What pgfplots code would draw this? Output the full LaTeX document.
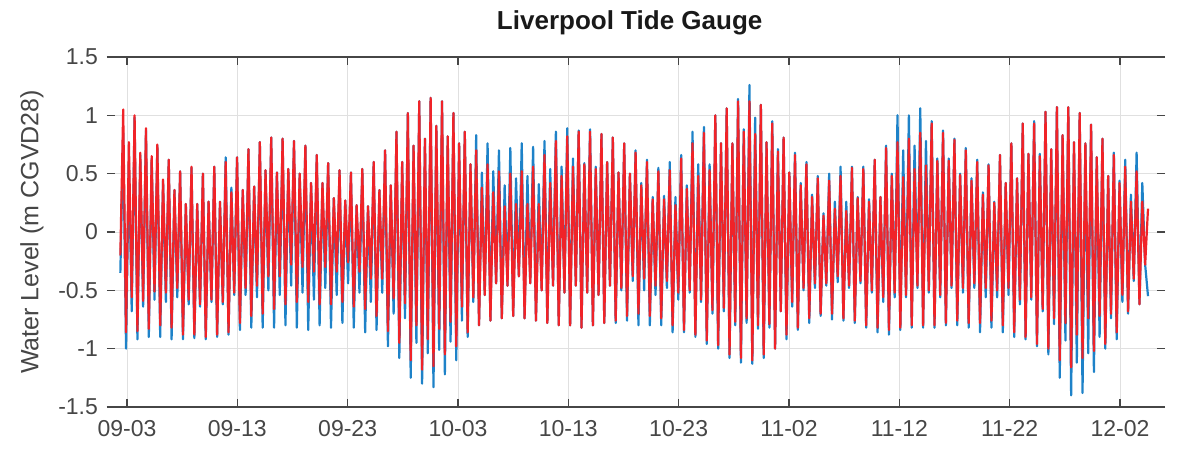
\documentclass[border=0pt]{standalone}
\usepackage{pgfplots}
\pgfplotsset{compat=1.18}
\usepackage{pgfplotstable}
\usepackage{fontspec}
\setmainfont{Liberation Sans}
\definecolor{tred}{RGB}{240,35,40}
\definecolor{tblue}{RGB}{30,130,200}
\definecolor{axgray}{RGB}{70,70,70}

% predicted (red) water level, one value every 0.258 day starting at day -0.6 (09-03 = day 0)
\pgfplotstableread[row sep=\\,header=false]{
-0.20\\
1.05\\ -0.86\\ 0.77\\ -0.56\\
1.00\\ -0.85\\ 0.68\\ -0.59\\
0.89\\ -0.83\\ 0.65\\ -0.51\\
0.75\\ -0.80\\ 0.45\\ -0.52\\
0.62\\ -0.82\\ 0.36\\ -0.48\\
0.52\\ -0.88\\ 0.24\\ -0.58\\
0.56\\ -0.88\\ 0.24\\ -0.62\\
0.50\\ -0.90\\ 0.26\\ -0.58\\
0.56\\ -0.88\\ 0.26\\ -0.60\\
0.60\\ -0.86\\ 0.34\\ -0.52\\
0.64\\ -0.78\\ 0.36\\ -0.48\\
0.71\\ -0.72\\ 0.39\\ -0.46\\
0.77\\ -0.70\\ 0.53\\ -0.38\\
0.81\\ -0.66\\ 0.51\\ -0.38\\
0.80\\ -0.62\\ 0.54\\ -0.28\\
0.78\\ -0.60\\ 0.50\\ -0.30\\
0.74\\ -0.60\\ 0.42\\ -0.34\\
0.66\\ -0.62\\ 0.42\\ -0.30\\
0.59\\ -0.62\\ 0.29\\ -0.34\\
0.53\\ -0.60\\ 0.27\\ -0.26\\
0.51\\ -0.64\\ 0.23\\ -0.34\\
0.54\\ -0.66\\ 0.22\\ -0.40\\
0.60\\ -0.72\\ 0.36\\ -0.40\\
0.70\\ -0.85\\ 0.40\\ -0.57\\
0.86\\ -0.95\\ 0.60\\ -0.61\\
1.02\\ -1.10\\ 0.74\\ -0.80\\
1.12\\ -1.18\\ 0.80\\ -0.92\\
1.15\\ -1.15\\ 0.91\\ -0.83\\
1.12\\ -1.05\\ 0.82\\ -0.77\\
1.02\\ -0.98\\ 0.76\\ -0.64\\
0.86\\ -0.86\\ 0.58\\ -0.56\\
0.70\\ -0.80\\ 0.38\\ -0.54\\
0.58\\ -0.76\\ 0.34\\ -0.44\\
0.52\\ -0.74\\ 0.22\\ -0.46\\
0.50\\ -0.72\\ 0.24\\ -0.38\\
0.52\\ -0.74\\ 0.24\\ -0.44\\
0.56\\ -0.76\\ 0.24\\ -0.50\\
0.66\\ -0.78\\ 0.42\\ -0.46\\
0.78\\ -0.80\\ 0.48\\ -0.52\\
0.82\\ -0.80\\ 0.56\\ -0.46\\
0.86\\ -0.82\\ 0.58\\ -0.52\\
0.86\\ -0.80\\ 0.54\\ -0.54\\
0.84\\ -0.78\\ 0.60\\ -0.46\\
0.81\\ -0.76\\ 0.51\\ -0.48\\
0.76\\ -0.72\\ 0.50\\ -0.38\\
0.68\\ -0.70\\ 0.40\\ -0.40\\
0.60\\ -0.72\\ 0.28\\ -0.46\\
0.52\\ -0.74\\ 0.28\\ -0.42\\
0.53\\ -0.80\\ 0.23\\ -0.52\\
0.63\\ -0.84\\ 0.37\\ -0.50\\
0.76\\ -0.88\\ 0.48\\ -0.58\\
0.85\\ -0.93\\ 0.53\\ -0.67\\
1.00\\ -0.97\\ 0.76\\ -0.65\\
1.06\\ -1.05\\ 0.76\\ -0.77\\
1.12\\ -1.08\\ 0.86\\ -0.74\\
1.12\\ -1.10\\ 0.84\\ -0.80\\
1.09\\ -1.05\\ 0.77\\ -0.79\\
0.93\\ -1.00\\ 0.69\\ -0.68\\
0.81\\ -0.88\\ 0.51\\ -0.60\\
0.66\\ -0.82\\ 0.40\\ -0.48\\
0.58\\ -0.74\\ 0.30\\ -0.44\\
0.46\\ -0.70\\ 0.14\\ -0.44\\
0.44\\ -0.70\\ 0.20\\ -0.38\\
0.48\\ -0.74\\ 0.18\\ -0.46\\
0.55\\ -0.76\\ 0.29\\ -0.42\\
0.54\\ -0.80\\ 0.26\\ -0.50\\
0.62\\ -0.82\\ 0.30\\ -0.56\\
0.72\\ -0.84\\ 0.48\\ -0.52\\
0.77\\ -0.82\\ 0.47\\ -0.54\\
0.80\\ -0.80\\ 0.54\\ -0.46\\
0.85\\ -0.80\\ 0.57\\ -0.50\\
0.93\\ -0.80\\ 0.61\\ -0.54\\
0.85\\ -0.78\\ 0.61\\ -0.46\\
0.79\\ -0.76\\ 0.49\\ -0.48\\
0.70\\ -0.78\\ 0.44\\ -0.44\\
0.60\\ -0.78\\ 0.32\\ -0.48\\
0.57\\ -0.76\\ 0.25\\ -0.50\\
0.66\\ -0.80\\ 0.42\\ -0.48\\
0.76\\ -0.86\\ 0.46\\ -0.58\\
0.93\\ -0.90\\ 0.67\\ -0.56\\
0.93\\ -0.96\\ 0.65\\ -0.66\\
1.03\\ -1.00\\ 0.71\\ -0.74\\
1.07\\ -1.10\\ 0.83\\ -0.78\\
1.07\\ -1.16\\ 0.77\\ -0.88\\
1.02\\ -1.08\\ 0.76\\ -0.74\\
0.92\\ -1.02\\ 0.64\\ -0.72\\
0.80\\ -0.96\\ 0.48\\ -0.70\\
0.66\\ -0.86\\ 0.42\\ -0.54\\
0.56\\ -0.68\\ 0.26\\ -0.40\\
0.52\\ -0.62\\ 0.26\\ -0.28\\
0.20\\
}\redtab

% observed (blue) water level, same time grid
\pgfplotstableread[row sep=\\,header=false]{
-0.35\\
0.85\\ -1.00\\ 0.60\\ -0.68\\
0.98\\ -0.92\\ 0.66\\ -0.64\\
0.87\\ -0.90\\ 0.63\\ -0.58\\
0.74\\ -0.90\\ 0.44\\ -0.60\\
0.62\\ -0.92\\ 0.36\\ -0.56\\
0.52\\ -0.92\\ 0.24\\ -0.62\\
0.55\\ -0.91\\ 0.24\\ -0.64\\
0.50\\ -0.92\\ 0.26\\ -0.60\\
0.56\\ -0.90\\ 0.26\\ -0.62\\
0.64\\ -0.88\\ 0.38\\ -0.54\\
0.64\\ -0.84\\ 0.36\\ -0.54\\
0.71\\ -0.82\\ 0.39\\ -0.56\\
0.77\\ -0.82\\ 0.53\\ -0.50\\
0.81\\ -0.82\\ 0.51\\ -0.54\\
0.80\\ -0.80\\ 0.54\\ -0.46\\
0.78\\ -0.82\\ 0.50\\ -0.52\\
0.74\\ -0.84\\ 0.42\\ -0.58\\
0.66\\ -0.80\\ 0.42\\ -0.48\\
0.59\\ -0.82\\ 0.29\\ -0.54\\
0.53\\ -0.78\\ 0.27\\ -0.44\\
0.51\\ -0.82\\ 0.23\\ -0.52\\
0.54\\ -0.86\\ 0.22\\ -0.60\\
0.60\\ -0.84\\ 0.36\\ -0.52\\
0.70\\ -0.98\\ 0.40\\ -0.70\\
0.86\\ -1.08\\ 0.60\\ -0.74\\
1.02\\ -1.25\\ 0.74\\ -0.95\\
1.12\\ -1.30\\ 0.80\\ -1.04\\
1.15\\ -1.33\\ 0.91\\ -1.01\\
1.12\\ -1.22\\ 0.82\\ -0.94\\
1.02\\ -1.10\\ 0.76\\ -0.76\\
0.86\\ -0.90\\ 0.58\\ -0.60\\
0.83\\ -0.80\\ 0.51\\ -0.54\\
0.76\\ -0.76\\ 0.52\\ -0.44\\
0.70\\ -0.74\\ 0.40\\ -0.46\\
0.72\\ -0.72\\ 0.46\\ -0.38\\
0.76\\ -0.74\\ 0.48\\ -0.44\\
0.73\\ -0.76\\ 0.41\\ -0.50\\
0.78\\ -0.78\\ 0.54\\ -0.46\\
0.86\\ -0.80\\ 0.56\\ -0.52\\
0.89\\ -0.80\\ 0.63\\ -0.46\\
0.87\\ -0.82\\ 0.59\\ -0.52\\
0.88\\ -0.80\\ 0.56\\ -0.54\\
0.84\\ -0.78\\ 0.60\\ -0.46\\
0.81\\ -0.78\\ 0.51\\ -0.50\\
0.76\\ -0.76\\ 0.50\\ -0.42\\
0.70\\ -0.80\\ 0.42\\ -0.50\\
0.62\\ -0.80\\ 0.30\\ -0.54\\
0.55\\ -0.80\\ 0.31\\ -0.48\\
0.60\\ -0.86\\ 0.30\\ -0.58\\
0.66\\ -0.86\\ 0.40\\ -0.52\\
0.86\\ -0.90\\ 0.58\\ -0.60\\
0.90\\ -0.96\\ 0.58\\ -0.70\\
1.00\\ -1.00\\ 0.76\\ -0.68\\
1.06\\ -1.08\\ 0.76\\ -0.80\\
1.14\\ -1.12\\ 0.88\\ -0.78\\
1.26\\ -1.13\\ 0.98\\ -0.83\\
1.09\\ -1.08\\ 0.77\\ -0.82\\
0.95\\ -1.00\\ 0.71\\ -0.68\\
0.81\\ -0.92\\ 0.51\\ -0.64\\
0.68\\ -0.84\\ 0.42\\ -0.50\\
0.60\\ -0.78\\ 0.32\\ -0.48\\
0.48\\ -0.72\\ 0.16\\ -0.46\\
0.50\\ -0.75\\ 0.26\\ -0.43\\
0.56\\ -0.76\\ 0.26\\ -0.48\\
0.56\\ -0.78\\ 0.30\\ -0.44\\
0.56\\ -0.82\\ 0.28\\ -0.52\\
0.62\\ -0.86\\ 0.30\\ -0.60\\
0.74\\ -0.88\\ 0.50\\ -0.56\\
1.00\\ -0.84\\ 0.70\\ -0.56\\
1.00\\ -0.82\\ 0.74\\ -0.48\\
1.06\\ -0.82\\ 0.78\\ -0.52\\
0.95\\ -0.82\\ 0.63\\ -0.56\\
0.87\\ -0.80\\ 0.63\\ -0.48\\
0.80\\ -0.80\\ 0.50\\ -0.52\\
0.72\\ -0.82\\ 0.46\\ -0.48\\
0.62\\ -0.86\\ 0.34\\ -0.56\\
0.58\\ -0.82\\ 0.26\\ -0.56\\
0.66\\ -0.86\\ 0.42\\ -0.54\\
0.76\\ -0.90\\ 0.46\\ -0.62\\
0.93\\ -0.92\\ 0.67\\ -0.58\\
0.95\\ -0.98\\ 0.67\\ -0.68\\
1.03\\ -1.05\\ 0.71\\ -0.79\\
1.07\\ -1.25\\ 0.83\\ -0.93\\
1.07\\ -1.40\\ 0.77\\ -1.12\\
1.02\\ -1.38\\ 0.76\\ -1.04\\
0.92\\ -1.20\\ 0.64\\ -0.90\\
0.80\\ -1.00\\ 0.48\\ -0.74\\
0.68\\ -0.92\\ 0.44\\ -0.60\\
0.62\\ -0.70\\ 0.32\\ -0.42\\
0.68\\ -0.62\\ 0.42\\ -0.28\\
-0.55\\
}\bluetab

\begin{document}
\begin{tikzpicture}
\path[use as bounding box] (-53.5pt,-21pt) rectangle (539pt,203.5pt);
\begin{axis}[
  at={(0,0)}, anchor=south west,
  scale only axis, width=529pt, height=175pt,
  xmin=-1.81, xmax=94.08, ymin=-1.5, ymax=1.5,
  xtick={0,10,20,30,40,50,60,70,80,90},
  xticklabels={09-03,09-13,09-23,10-03,10-13,10-23,11-02,11-12,11-22,12-02},
  ytick={-1.5,-1,-0.5,0,0.5,1,1.5},
  yticklabels={-1.5,-1,-0.5,0,0.5,1,1.5},
  grid=major,
  major grid style={black!12, line width=0.4pt},
  axis lines=box, separate axis lines,
  x axis line style={axgray, line width=0.9pt},
  y axis line style={draw=none},
  tick align=inside, major tick length=4pt,
  tick style={axgray, line width=0.6pt},
  ticklabel style={font=\fontsize{11.5}{13}\selectfont, text=axgray},
  xticklabel style={yshift=-3pt},
  yticklabel style={xshift=-1pt},
  title={Liverpool Tide Gauge},
  title style={at={(axis description cs:0.494,1.063)}, anchor=center,
    font=\bfseries\fontsize{13}{15}\selectfont, text=black!90},
  ylabel={Water Level (m CGVD28)},
  ylabel style={at={(axis description cs:-0.0709,0.5)}, anchor=center,
    font=\fontsize{12.5}{14}\selectfont, text=axgray},
]
\addplot[tblue, line width=1.1pt, line join=round]
  table[x expr=\coordindex*0.258-0.6, y index=0] {\bluetab};
\addplot[tred, line width=1.1pt, line join=round]
  table[x expr=\coordindex*0.258-0.6, y index=0] {\redtab};
\end{axis}
\end{tikzpicture}
\end{document}
